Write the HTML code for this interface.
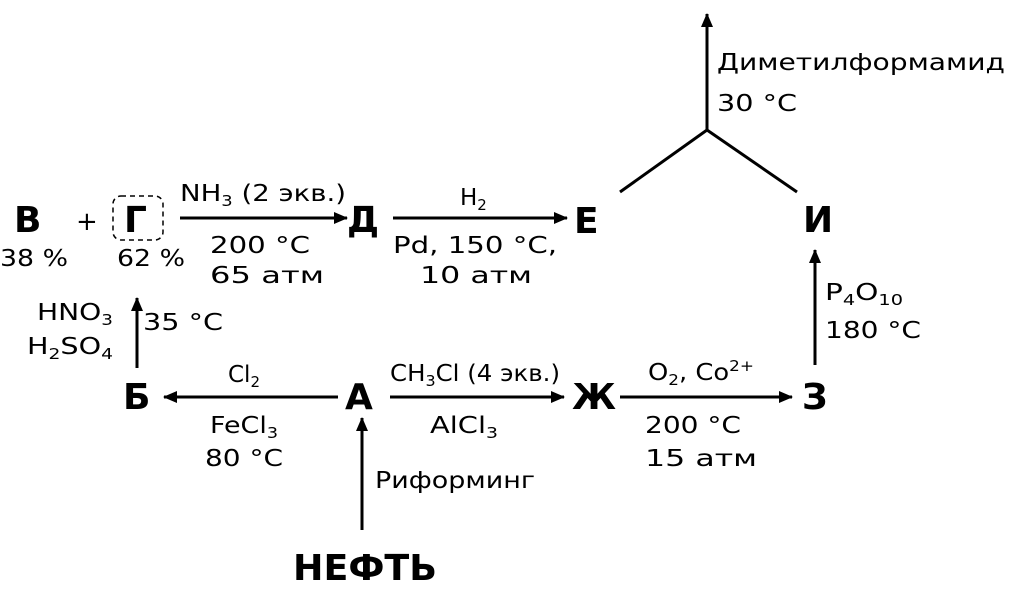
<!DOCTYPE html>
<html><head><meta charset="utf-8"><style>
html,body{margin:0;padding:0;background:#fff}
svg{display:block}
text{font-family:"DejaVu Sans","Liberation Sans",sans-serif;fill:#000}
.s{font-size:23px}
.b{font-size:36px;font-weight:bold}
</style></head><body>
<svg width="1016" height="593" viewBox="0 0 1016 593" xmlns="http://www.w3.org/2000/svg">
<defs><marker id="a" markerWidth="14" markerHeight="12" refX="13" refY="6" orient="auto" markerUnits="userSpaceOnUse"><path d="M0,0 L14,6 L0,12 z" fill="#000"/></marker></defs>
<g stroke="#000" stroke-width="3" fill="none">
<line x1="180" y1="218" x2="347" y2="218" marker-end="url(#a)"/>
<line x1="393" y1="218" x2="567" y2="218" marker-end="url(#a)"/>
<line x1="620" y1="192" x2="707" y2="130"/>
<line x1="797" y1="192" x2="707" y2="130"/>
<line x1="707" y1="130" x2="707" y2="14" marker-end="url(#a)"/>
<line x1="815" y1="365" x2="815" y2="250" marker-end="url(#a)"/>
<line x1="620" y1="397" x2="792" y2="397" marker-end="url(#a)"/>
<line x1="390" y1="397" x2="564" y2="397" marker-end="url(#a)"/>
<line x1="338" y1="397" x2="164" y2="397" marker-end="url(#a)"/>
<line x1="137" y1="368" x2="137" y2="298" marker-end="url(#a)"/>
<line x1="362" y1="530" x2="362" y2="418" marker-end="url(#a)"/>
<rect x="113" y="196" width="50" height="44" rx="8" stroke-width="1.5" stroke-dasharray="5,4"/>
</g>
<text class="b" x="14" y="232">В</text>
<text class="s" x="0" y="266" textLength="68" lengthAdjust="spacingAndGlyphs">38 %</text>
<text class="s" x="76" y="230" style="font-size:26px">+</text>
<text class="b" x="124" y="232">Г</text>
<text class="s" x="117" y="266" textLength="68" lengthAdjust="spacingAndGlyphs">62 %</text>
<text class="s" x="180" y="201" textLength="166" lengthAdjust="spacingAndGlyphs">NH<tspan font-size="15" dy="5">3</tspan><tspan dy="-5"> (2 экв.)</tspan></text>
<text class="s" x="210" y="253" textLength="100" lengthAdjust="spacingAndGlyphs">200 °C</text>
<text class="s" x="210" y="283" textLength="114" lengthAdjust="spacingAndGlyphs">65 атм</text>
<text class="b" x="347" y="232">Д</text>
<text class="s" x="460" y="205">H<tspan font-size="15" dy="5">2</tspan></text>
<text class="s" x="393" y="253" textLength="164" lengthAdjust="spacingAndGlyphs">Pd, 150 °C,</text>
<text class="s" x="420" y="283" textLength="112" lengthAdjust="spacingAndGlyphs">10 атм</text>
<text class="b" x="574" y="233">Е</text>
<text class="s" x="717" y="70" textLength="288" lengthAdjust="spacingAndGlyphs">Диметилформамид</text>
<text class="s" x="717" y="111" textLength="80" lengthAdjust="spacingAndGlyphs">30 °C</text>
<text class="b" x="803" y="232">И</text>
<text class="s" x="825" y="300" textLength="78" lengthAdjust="spacingAndGlyphs">P<tspan font-size="15" dy="5">4</tspan><tspan dy="-5">O</tspan><tspan font-size="15" dy="5">10</tspan></text>
<text class="s" x="825" y="338" textLength="96" lengthAdjust="spacingAndGlyphs">180 °C</text>
<text class="b" x="802" y="409">З</text>
<text class="s" x="648" y="380" textLength="106" lengthAdjust="spacingAndGlyphs">O<tspan font-size="15" dy="5">2</tspan><tspan dy="-5">, Co</tspan><tspan font-size="15" dy="-9">2+</tspan></text>
<text class="s" x="645" y="433" textLength="96" lengthAdjust="spacingAndGlyphs">200 °C</text>
<text class="s" x="645" y="466" textLength="112" lengthAdjust="spacingAndGlyphs">15 атм</text>
<text class="b" x="572" y="409">Ж</text>
<text class="s" x="390" y="381" textLength="170" lengthAdjust="spacingAndGlyphs">CH<tspan font-size="15" dy="5">3</tspan><tspan dy="-5">Cl (4 экв.)</tspan></text>
<text class="s" x="430" y="433" textLength="68" lengthAdjust="spacingAndGlyphs">AlCl<tspan font-size="15" dy="5">3</tspan></text>
<text class="b" x="345" y="409">А</text>
<text class="s" x="228" y="382">Cl<tspan font-size="15" dy="5">2</tspan></text>
<text class="s" x="210" y="433" textLength="68" lengthAdjust="spacingAndGlyphs">FeCl<tspan font-size="15" dy="5">3</tspan></text>
<text class="s" x="205" y="466" textLength="78" lengthAdjust="spacingAndGlyphs">80 °C</text>
<text class="b" x="123" y="409">Б</text>
<text class="s" x="37" y="320" textLength="76" lengthAdjust="spacingAndGlyphs">HNO<tspan font-size="15" dy="5">3</tspan></text>
<text class="s" x="27" y="354" textLength="86" lengthAdjust="spacingAndGlyphs">H<tspan font-size="15" dy="5">2</tspan><tspan dy="-5">SO</tspan><tspan font-size="15" dy="5">4</tspan></text>
<text class="s" x="143" y="330" textLength="80" lengthAdjust="spacingAndGlyphs">35 °C</text>
<text class="s" x="375" y="488" textLength="160" lengthAdjust="spacingAndGlyphs">Риформинг</text>
<text class="b" x="293" y="580" textLength="144" lengthAdjust="spacingAndGlyphs">НЕФТЬ</text>
</svg>
</body></html>
